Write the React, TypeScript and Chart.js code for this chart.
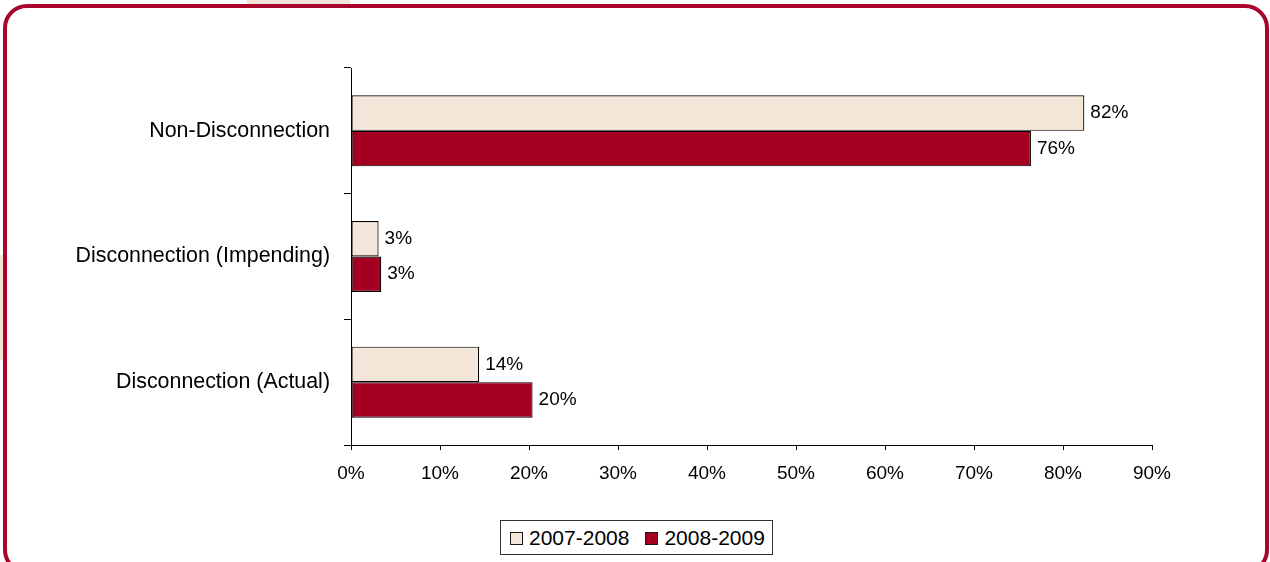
import React, { useEffect, useRef } from "react";
import { Chart, registerables } from "chart.js";

Chart.register(...registerables);

const categories = ["Non-Disconnection", "Disconnection (Impending)", "Disconnection (Actual)"];
const seriesNames = ["2007-2008", "2008-2009"];
const values2007 = [82.4, 3.1, 14.4];
const values2008 = [76.4, 3.4, 20.4];
const xTicks = [0, 10, 20, 30, 40, 50, 60, 70, 80, 90];

const FONT = "'Liberation Sans', Arial, Helvetica, sans-serif";
const BEIGE = "#F3E5D8";
const CRIMSON = "#A50021";
const FRAME = "#A8042C";

const valueLabels = {
  id: "valueLabels",
  afterDatasetsDraw(chart: any) {
    const ctx = chart.ctx;
    ctx.save();
    ctx.font = `19px ${FONT}`;
    ctx.fillStyle = "#000";
    ctx.textAlign = "left";
    ctx.textBaseline = "middle";
    chart.data.datasets.forEach((ds: any, di: number) => {
      const meta = chart.getDatasetMeta(di);
      meta.data.forEach((el: any, i: number) => {
        ctx.fillText(Math.round(ds.data[i]) + "%", el.x + 6, el.y);
      });
    });
    ctx.restore();
  },
};

export default function App() {
  const ref = useRef<HTMLCanvasElement>(null);
  useEffect(() => {
    if (!ref.current) return;
    const chart = new Chart(ref.current, {
      type: "bar",
      data: {
        labels: categories,
        datasets: [
          {
            label: seriesNames[0],
            data: values2007,
            backgroundColor: BEIGE,
            borderColor: "#000",
            borderWidth: 1.2,
            borderSkipped: false,
            categoryPercentage: 0.565,
            barPercentage: 1,
          },
          {
            label: seriesNames[1],
            data: values2008,
            backgroundColor: CRIMSON,
            borderColor: "#000",
            borderWidth: 1.2,
            borderSkipped: false,
            categoryPercentage: 0.565,
            barPercentage: 1,
          },
        ],
      },
      options: {
        indexAxis: "y",
        animation: false,
        responsive: true,
        maintainAspectRatio: false,
        layout: { padding: { left: 10, top: 68, right: 118, bottom: 72 } },
        plugins: { legend: { display: false }, tooltip: { enabled: false } },
        scales: {
          x: {
            min: 0,
            max: 90,
            afterBuildTicks: (scale: any) => {
              scale.ticks = xTicks.map((v) => ({ value: v }));
            },
            ticks: {
              callback: (v: any) => v + "%",
              color: "#000",
              font: { family: FONT, size: 19 },
              padding: 12,
              maxRotation: 0,
            },
            grid: { drawOnChartArea: false, drawTicks: true, tickLength: 5, color: "#000" },
            border: { color: "#000", width: 1 },
            afterFit: (scale: any) => {
              scale.height = 45;
            },
          },
          y: {
            ticks: {
              color: "#000",
              font: { family: FONT, size: 21.4 },
              padding: 14,
            },
            grid: { drawOnChartArea: false, drawTicks: true, tickLength: 7, color: "#000", offset: true },
            border: { color: "#000", width: 1 },
            afterFit: (scale: any) => {
              scale.width = 341;
            },
          },
        },
      },
      plugins: [valueLabels],
    });
    return () => chart.destroy();
  }, []);

  const legendItem = (name: string, color: string) => (
    <div style={{ display: "flex", alignItems: "center" }}>
      <div
        style={{
          width: 11,
          height: 11,
          background: color,
          border: "1px solid #1a1a1a",
          marginRight: 6,
          marginTop: 2,
        }}
      />
      <span>{name}</span>
    </div>
  );

  return (
    <div style={{ position: "fixed", left: 0, top: 0, width: 1270, height: 562, background: "#fff", overflow: "hidden" }}>
      <div style={{ position: "absolute", left: 247, top: 0, width: 103, height: 6, background: BEIGE }} />
      <div style={{ position: "absolute", left: 0, top: 255, width: 4, height: 105, background: BEIGE }} />
      <div
        style={{
          position: "absolute",
          left: 3,
          top: 4,
          width: 1258,
          height: 562,
          border: `4px solid ${FRAME}`,
          borderRadius: 24,
          background: "#fff",
        }}
      />
      <div style={{ position: "absolute", left: 0, top: 0, width: 1270, height: 562 }}>
        <canvas ref={ref} />
      </div>
      <div
        style={{
          position: "absolute",
          left: 500,
          top: 520,
          width: 273,
          height: 35,
          border: "1px solid #333",
          background: "#fff",
          display: "flex",
          alignItems: "center",
          paddingLeft: 9,
          boxSizing: "border-box",
          gap: 16,
          fontFamily: FONT,
          fontSize: 21,
          color: "#000",
        }}
      >
        {legendItem(seriesNames[0], BEIGE)}
        {legendItem(seriesNames[1], CRIMSON)}
      </div>
    </div>
  );
}
